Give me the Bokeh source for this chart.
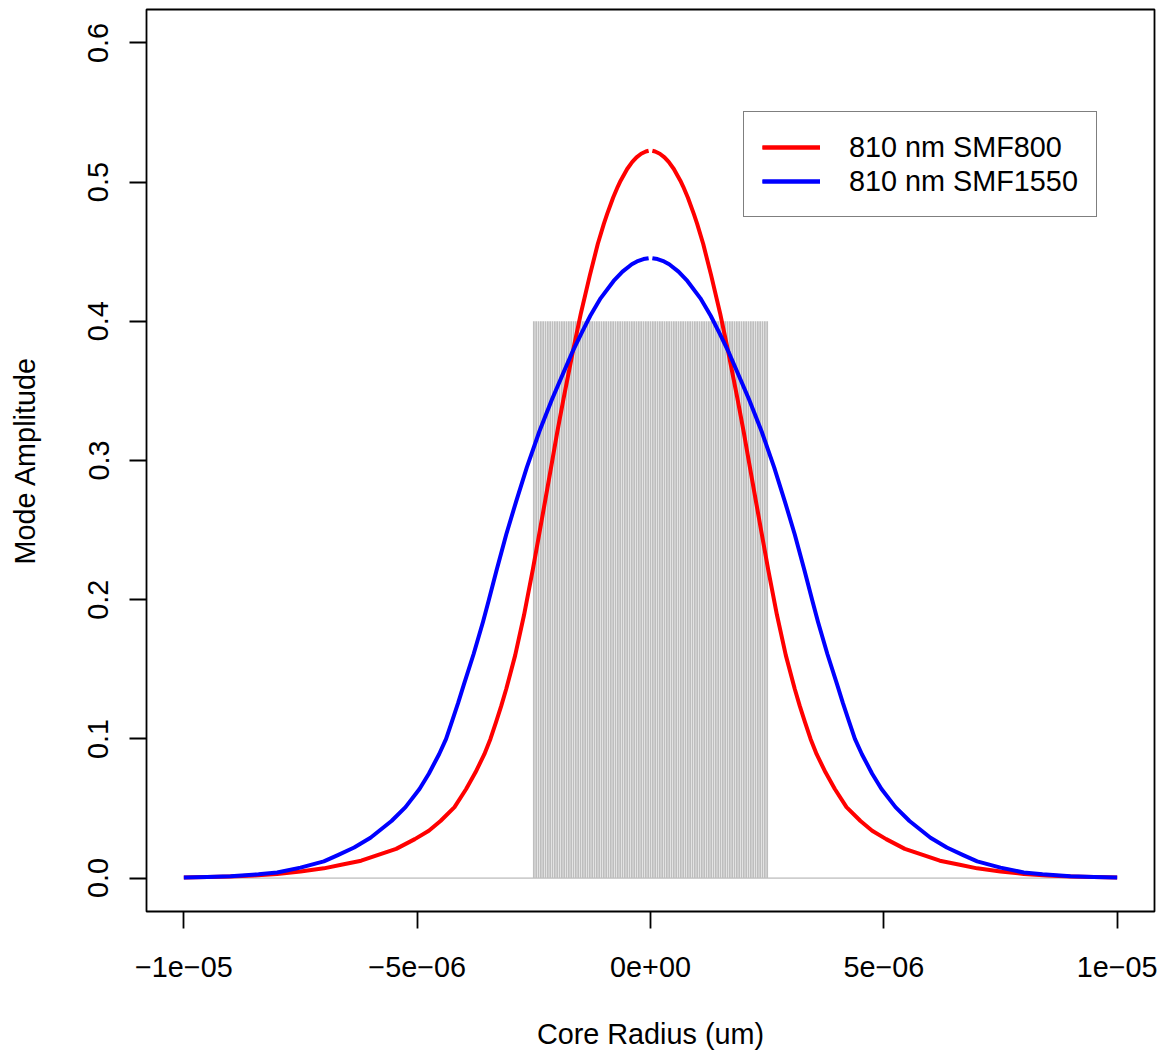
import numpy as np
from bokeh.plotting import figure
from bokeh.models import Range1d, FixedTicker, PrintfTickFormatter, Legend, LegendItem
from bokeh.embed import file_html
from bokeh.resources import INLINE

UM = 1e-6  # micrometre -> metre

# --- mode amplitude readings, left half (x in um); curves are mirror-symmetric ---
smf800_r = [-10.0, -9.5, -9.0, -8.5, -8.0, -7.5, -7.0, -6.6, -6.2, -5.85, -5.45, -5.05,
            -4.75, -4.5, -4.2, -3.95, -3.75, -3.56, -3.43, -3.31, -3.20, -3.09, -2.90,
            -2.71, -2.52, -2.38, -2.25, -2.12, -2.0, -1.86, -1.66, -1.49, -1.30, -1.13,
            -1.0, -0.93, -0.80, -0.70, -0.64, -0.50, -0.39, -0.30, -0.20, -0.10, -0.04]
smf800_a = [0.0004, 0.0007, 0.0012, 0.0019, 0.0030, 0.0048, 0.0070, 0.0098, 0.0125,
            0.0165, 0.0210, 0.0280, 0.0340, 0.0410, 0.0510, 0.0640, 0.0760, 0.0890,
            0.1000, 0.1120, 0.1235, 0.1360, 0.1600, 0.1890, 0.2220, 0.2480, 0.2725,
            0.2970, 0.3200, 0.3450, 0.3790, 0.4060, 0.4330, 0.4555, 0.4700, 0.4770,
            0.4889, 0.4968, 0.5010, 0.5094, 0.5145, 0.5178, 0.5204, 0.5220, 0.5225]

smf1550_r = [-10.0, -9.5, -9.0, -8.4, -8.0, -7.5, -7.0, -6.7, -6.35, -6.0, -5.55, -5.25,
             -4.95, -4.75, -4.53, -4.38, -4.25, -4.12, -4.0, -3.79, -3.59, -3.47, -3.30,
             -3.09, -2.88, -2.65, -2.38, -2.11, -1.88, -1.66, -1.47, -1.29, -1.07, -0.79,
             -0.60, -0.40, -0.29, -0.15, -0.04]
smf1550_a = [0.0004, 0.0008, 0.0014, 0.0027, 0.0040, 0.0075, 0.0120, 0.0165, 0.0220,
             0.0290, 0.0410, 0.0510, 0.0640, 0.0750, 0.0890, 0.1000, 0.1130, 0.1260,
             0.1390, 0.1610, 0.1840, 0.1990, 0.2210, 0.2470, 0.2705, 0.2950, 0.3210,
             0.3440, 0.3620, 0.3790, 0.3920, 0.4040, 0.4165, 0.4290, 0.4357, 0.4410,
             0.4430, 0.4447, 0.4453]

series_labels = ["810 nm SMF800", "810 nm SMF1550"]
series_colors = ["#FF0000", "#0000FF"]

# --- step-index core profile (drawn as R type="h" vertical lines) ---
core_radius = 2.5e-6
core_level = 0.4
profile_extent = 1e-5
profile_samples = 401

# --- axes ---
x_ticks = [-1e-05, -5e-06, 0.0, 5e-06, 1e-05]
x_tick_labels = ["\u22121e\u221205", "\u22125e\u221206", "0e+00", "5e\u221206", "1e\u221205"]
y_ticks = [0.0, 0.1, 0.2, 0.3, 0.4, 0.5, 0.6]
x_title = "Core Radius (um)"
y_title = "Mode Amplitude"

FONT = "Liberation Sans"
FS = "28.8px"

p = figure(width=1164, height=1055,
           x_range=Range1d(-1.08e-5, 1.08e-5), y_range=Range1d(-0.024, 0.624),
           output_backend="svg", toolbar_location=None,
           min_border_left=146, min_border_right=10, min_border_top=9, min_border_bottom=144,
           x_axis_label=x_title, y_axis_label=y_title)

p.xgrid.visible = False
p.ygrid.visible = False
p.outline_line_color = "black"
p.outline_line_width = 1.8
p.background_fill_color = "white"
p.border_fill_color = "white"

# core profile
px = np.linspace(-profile_extent, profile_extent, profile_samples)
py = np.where(np.abs(px) <= core_radius + 1e-12, core_level, 0.0)
inside = py > 0
p.line(px, np.zeros_like(px), line_color="#BEBEBE", line_width=1.8, line_alpha=0.75)
p.segment(x0=px[inside], y0=np.zeros(inside.sum()), x1=px[inside], y1=py[inside],
          line_color="#BEBEBE", line_width=1.8)

# mode curves (two halves, as in the original, with a tiny gap at the centre)
items = []
for r, a, lab, col in [(smf800_r, smf800_a, series_labels[0], series_colors[0]),
                       (smf1550_r, smf1550_a, series_labels[1], series_colors[1])]:
    xl = np.array(r) * UM
    ya = np.array(a)
    left = p.line(xl, ya, line_color=col, line_width=4.0, line_join="round")
    right = p.line(-xl[::-1], ya[::-1], line_color=col, line_width=4.0, line_join="round")
    items.append(LegendItem(label=lab, renderers=[left, right]))

legend = Legend(items=items, location=(597, 694), orientation="vertical",
                padding=18, margin=0, spacing=0,
                glyph_width=58, glyph_height=34, label_height=34, label_standoff=29,
                label_text_font=FONT, label_text_font_size=FS, label_text_color="black",
                border_line_color="black", border_line_width=1.8,
                background_fill_color="white", background_fill_alpha=1.0)
p.add_layout(legend, "center")

for ax in p.axis:
    ax.axis_line_color = None
    ax.major_tick_out = 17
    ax.major_tick_in = 0
    ax.minor_tick_out = 0
    ax.minor_tick_in = 0
    ax.major_tick_line_width = 1.8
    ax.major_tick_line_color = "black"
    ax.major_label_text_font = FONT
    ax.major_label_text_font_size = FS
    ax.major_label_text_color = "black"
    ax.axis_label_text_font = FONT
    ax.axis_label_text_font_size = FS
    ax.axis_label_text_font_style = "normal"
    ax.axis_label_text_color = "black"

p.xaxis.ticker = FixedTicker(ticks=x_ticks)
p.xaxis.major_label_overrides = dict(zip(x_ticks, x_tick_labels))
p.xaxis.major_label_standoff = 28
p.xaxis.axis_label_standoff = 38

p.yaxis.ticker = FixedTicker(ticks=y_ticks)
p.yaxis.formatter = PrintfTickFormatter(format="%.1f")
p.yaxis.major_label_orientation = "vertical"
p.yaxis.major_label_standoff = 21
p.yaxis.axis_label_standoff = 45

open("out.html", "w").write(file_html(p, INLINE))
